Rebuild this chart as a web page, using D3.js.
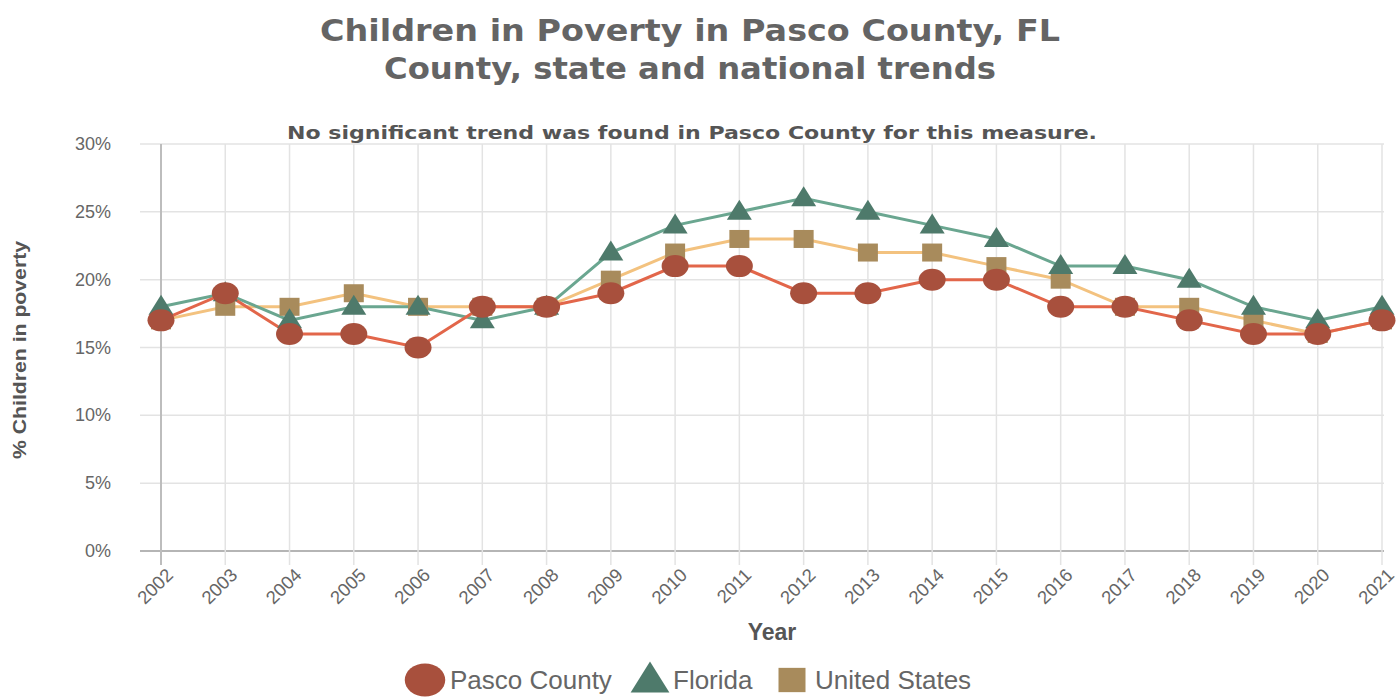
<!DOCTYPE html>
<html><head><meta charset="utf-8">
<script src="https://cdn.jsdelivr.net/npm/d3@7"></script>
<style>body{margin:0;background:#fff;} svg{display:block;}</style>
</head><body>
<script>
const years = [2002,2003,2004,2005,2006,2007,2008,2009,2010,2011,2012,2013,2014,2015,2016,2017,2018,2019,2020,2021];
const pasco   = [17,19,16,16,15,18,18,19,21,21,19,19,20,20,18,18,17,16,16,17];
const florida = [18,19,17,18,18,17,18,22,24,25,26,25,24,23,21,21,20,18,17,18];
const usa     = [17,18,18,19,18,18,18,20,22,23,23,22,22,21,20,18,18,17,16,17];
const yTicks = [0,5,10,15,20,25,30];
const titleLines = ["Children in Poverty in Pasco County, FL","County, state and national trends"];
const subtitle = "No significant trend was found in Pasco County for this measure.";

const W=1398,H=698;
const svg=d3.select("body").append("svg").attr("width",W).attr("height",H);
const x=d3.scalePoint().domain(years).range([161,1382]);
const y=d3.scaleLinear().domain([0,30]).range([551,144]);
const lf="'Liberation Sans', Arial, sans-serif";

// gridlines
svg.append("g").selectAll("line").data(yTicks).join("line")
  .attr("x1",140).attr("x2",1384).attr("y1",d=>y(d)).attr("y2",d=>y(d))
  .attr("stroke",d=>d===0?"#b5b5b5":"#e3e3e3").attr("stroke-width",d=>d===0?2:1.5);
svg.append("g").selectAll("line").data(years).join("line")
  .attr("x1",d=>x(d)).attr("x2",d=>x(d)).attr("y1",144).attr("y2",565)
  .attr("stroke",(d,i)=>i===0?"#bdbdbd":"#e3e3e3").attr("stroke-width",(d,i)=>i===0?2:1.5);

// y tick labels
svg.append("g").selectAll("text").data(yTicks).join("text")
  .attr("x",111).attr("y",d=>y(d)+6).attr("text-anchor","end")
  .attr("font-family",lf).attr("font-size",18).attr("fill","#666")
  .text(d=>d+"%");
// x tick labels
svg.append("g").selectAll("text").data(years).join("text")
  .attr("transform",d=>`translate(${x(d)+4},${567}) rotate(-45)`).attr("text-anchor","end")
  .attr("font-family",lf).attr("font-size",18.5).attr("fill","#666")
  .attr("dy","0.7em").text(d=>d);

// titles
const tf="'DejaVu Sans', 'Open Sans', sans-serif";
const tLen=[740,612];
svg.append("g").selectAll("text").data(titleLines).join("text")
  .attr("x",690).attr("y",(d,i)=>41+i*38).attr("text-anchor","middle")
  .attr("font-family",tf).attr("font-weight",700).attr("font-size",31).attr("fill","#646464")
  .attr("textLength",(d,i)=>tLen[i]).attr("lengthAdjust","spacingAndGlyphs").text(d=>d);
svg.append("text").attr("x",692).attr("y",139).attr("text-anchor","middle")
  .attr("font-family",tf).attr("font-weight",700).attr("font-size",18).attr("fill","#555")
  .attr("textLength",810).attr("lengthAdjust","spacingAndGlyphs").text(subtitle);
svg.append("text").attr("transform","translate(26,350) rotate(-90)").attr("text-anchor","middle")
  .attr("font-family",lf).attr("font-weight",700).attr("font-size",18).attr("fill","#555")
  .attr("textLength",218).attr("lengthAdjust","spacingAndGlyphs")
  .text("% Children in poverty");
svg.append("text").attr("x",772).attr("y",640).attr("text-anchor","middle")
  .attr("font-family",lf).attr("font-weight",700).attr("font-size",23).attr("fill","#555")
  .text("Year");

const series=[
  {name:"United States",vals:usa,line:"#f3c27f",mark:"#a88b5c",shape:"square"},
  {name:"Florida",vals:florida,line:"#6aa690",mark:"#4e7a6b",shape:"triangle"},
  {name:"Pasco County",vals:pasco,line:"#e2664a",mark:"#a8503d",shape:"circle"}
];
const line=d3.line().x(d=>x(d.year)).y(d=>y(d.v));
function drawMarker(g,shape,cx,cy,s,color){
  if(shape==="circle") g.append("ellipse").attr("cx",cx).attr("cy",cy).attr("rx",13.5*s).attr("ry",11*s).attr("fill",color);
  else if(shape==="triangle") g.append("path").attr("d",`M${cx},${cy-12*s}L${cx+12.5*s},${cy+8*s}L${cx-12.5*s},${cy+8*s}Z`).attr("fill",color);
  else g.append("rect").attr("x",cx-10*s).attr("y",cy-9*s).attr("width",20*s).attr("height",18*s).attr("fill",color);
}
series.forEach(s=>{
  const pts=years.map((yr,i)=>({year:yr,v:s.vals[i]}));
  svg.append("path").datum(pts).attr("d",line).attr("fill","none").attr("stroke",s.line).attr("stroke-width",3);
});
series.forEach(s=>{
  const g=svg.append("g");
  years.forEach((yr,i)=>drawMarker(g,s.shape,x(yr),y(s.vals[i]),1,s.mark));
});

// legend
const legend=[
  {name:"Pasco County",shape:"circle",mark:"#a8503d",cx:425,tx:450},
  {name:"Florida",shape:"triangle",mark:"#4e7a6b",cx:650,tx:673},
  {name:"United States",shape:"square",mark:"#a88b5c",cx:792,tx:815}
];
legend.forEach(l=>{
  const g=svg.append("g");
  drawMarker(g,l.shape,l.cx,680,l.shape==="circle"?1.5:(l.shape==="triangle"?1.55:1.35),l.mark);
  svg.append("text").attr("x",l.tx).attr("y",689).attr("font-family",lf)
    .attr("font-size",26).attr("fill","#666").text(l.name);
});
</script>
</body></html>
